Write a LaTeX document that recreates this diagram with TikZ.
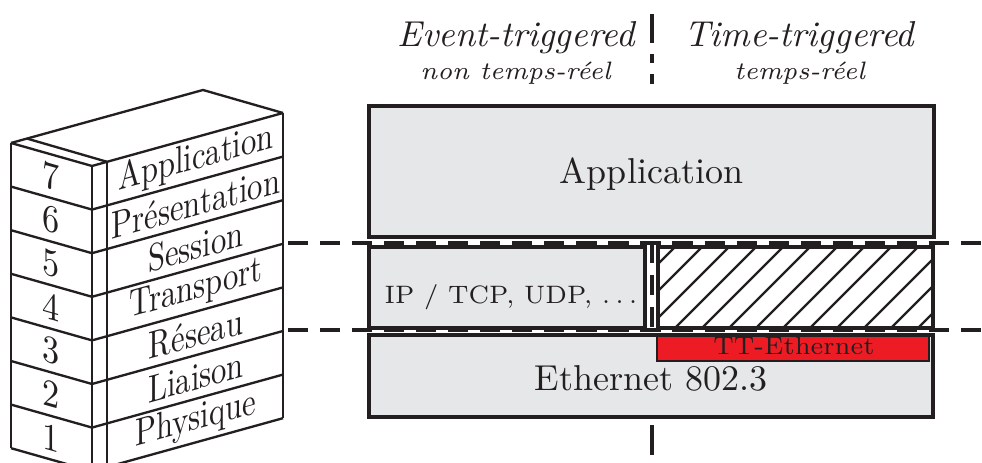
\documentclass[tikz,border=0pt]{standalone}
\definecolor{ink}{RGB}{35,31,32}
\definecolor{boxgray}{RGB}{230,231,232}
\definecolor{ttred}{RGB}{237,28,36}
\begin{document}
\begin{tikzpicture}[x=0.27778pt,y=-0.27778pt,
  layerbox/.style={draw=ink, fill=boxgray, line width=1pt},
  sepline/.style={draw=ink, line width=0.85pt, dash pattern=on 5.6pt off 3.3pt},
  stackline/.style={draw=ink, line width=0.65pt},
  hatchline/.style={draw=ink, line width=0.6pt},
  lbl/.style={text=ink, inner sep=0pt},
  stacklbl/.style={text=ink, inner sep=0pt, transform shape}]
\clip (0,0) rectangle (982,463);

% ---------- OSI stack ----------
\foreach \k in {0,...,7}{
  \draw[stackline] (11,{143+43.6*\k}) -- (92,{166+43.6*\k}) -- (283,{113+43.6*\k});
}
\draw[stackline] (11,143) -- (11,448.2);
\draw[stackline] (92,166) -- (92,480);
\draw[stackline] (107,161.8) -- (107,480);
\draw[stackline] (283,113) -- (283,418.2);
\draw[stackline] (11,143) -- (203,90) -- (283,113);
\draw[stackline] (27,138.6) -- (107,161.8);

\foreach \lab [count=\i from 0] in {Application,Présentation,Session,Transport,Réseau,Liaison,Physique}{
  \begin{scope}[cm={0.85,0.2359,0,1.08,(196,{158.9+43.6*\i})}]
    \node[stacklbl] (osiname\i) at (0,0) {\lab};
  \end{scope}
}
\foreach \n [count=\i from 0] in {7,6,5,4,3,2,1}{
  \begin{scope}[cm={0.95,-0.27,0,1.08,(51.5,{176.3+43.6*\i})}]
    \node[stacklbl] (osinum\i) at (0,0) {\n};
  \end{scope}
}

% ---------- separators ----------
\draw[sepline] (288,243) -- (982,243);
\draw[sepline] (288,330) -- (982,330);
\draw[sepline] (652,243) -- (652,330);
\draw[draw=ink, line width=0.9pt, dash pattern=on 8.1pt off 3.0pt on 2.6pt off 3.0pt on 2.8pt off 20pt] (652,14) -- (652,86);
\draw[draw=ink, line width=0.9pt] (652,425) -- (652,455);

% ---------- headings ----------
\node[lbl, anchor=base] (evt) at (517,47) {\textit{Event-triggered}};
\node[lbl, anchor=base] (tim) at (800,47) {\textit{Time-triggered}};
\node[lbl, anchor=base, font=\scriptsize] (evtsub) at (516,80) {\textit{non temps-réel}};
\node[lbl, anchor=base, font=\scriptsize] (timsub) at (800,80) {\textit{temps-réel}};

% ---------- layer boxes ----------
\path[layerbox] (369,106) rectangle (934,237);
\node[lbl, anchor=base] (app) at (651.5,184) {Application};

\path[layerbox] (369,247) rectangle (645,328);
\node[lbl, anchor=base, font=\scriptsize] (ip) at (511,304) {IP / TCP, UDP, $\ldots$};

\begin{scope}
  \clip (658,247) rectangle (933,328);
  \foreach \j in {-5,...,11}{
    \draw[hatchline] ({665+27*\j},338) -- ({766+27*\j},237);
  }
\end{scope}
\draw[draw=ink, line width=1pt] (658,247) rectangle (933,328);

\path[layerbox] (369,335) rectangle (933,417);
\node[lbl, anchor=base] (eth) at (651,391) {Ethernet 802.3};

\draw[draw=ink, fill=ttred, line width=0.8pt] (657,336) rectangle (929,361);
\node[lbl, anchor=base, font=\scriptsize] (tt) at (794,355) {TT-Ethernet};
\end{tikzpicture}
\end{document}
